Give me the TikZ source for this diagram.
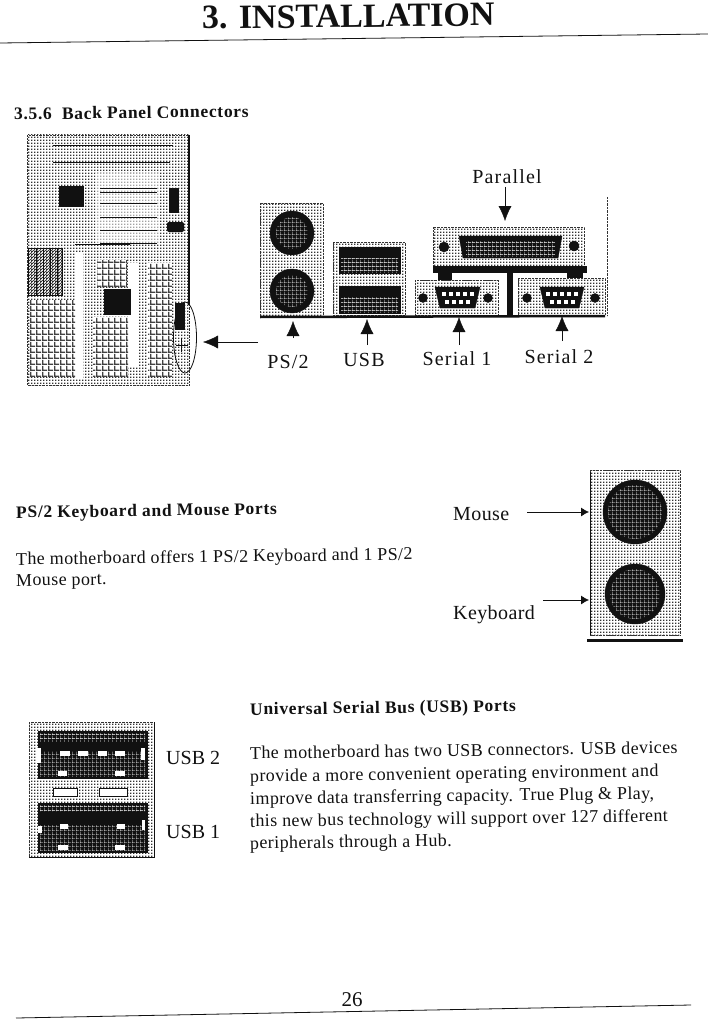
\documentclass[tikz,border=0pt]{standalone}
\usepackage{fontspec}
\setmainfont{Liberation Serif}
\newfontfamily\lblfont[LetterSpace=6]{Liberation Serif}
\newfontfamily\sidefont[LetterSpace=2]{Liberation Serif}
\newfontfamily\txtfont[LetterSpace=2.2]{Liberation Serif}
\newfontfamily\hdgfont[LetterSpace=4,BoldFont={Liberation Serif Bold}]{Liberation Serif}
\usetikzlibrary{positioning, arrows.meta, calc, patterns}
\definecolor{ink}{HTML}{111111}
\definecolor{halftone}{HTML}{333333}
\pgfdeclarepatternformonly{dither}{\pgfqpoint{0pt}{0pt}}{\pgfqpoint{2.8pt}{2.8pt}}{\pgfqpoint{2.8pt}{2.8pt}}{\pgfpathrectangle{\pgfqpoint{0pt}{0pt}}{\pgfqpoint{1.4pt}{1.4pt}}\pgfusepath{fill}}
\pgfdeclarepatternformonly{sparse}{\pgfqpoint{0pt}{0pt}}{\pgfqpoint{4pt}{4pt}}{\pgfqpoint{4pt}{4pt}}{\pgfpathrectangle{\pgfqpoint{0pt}{0pt}}{\pgfqpoint{4pt}{0.6pt}}\pgfpathrectangle{\pgfqpoint{0pt}{0pt}}{\pgfqpoint{0.6pt}{4pt}}\pgfusepath{fill}}
\pgfdeclarepatternformonly{cellgrid}{\pgfqpoint{0pt}{0pt}}{\pgfqpoint{6pt}{6pt}}{\pgfqpoint{6pt}{6pt}}{\pgfpathrectangle{\pgfqpoint{0pt}{0pt}}{\pgfqpoint{6pt}{1.6pt}}\pgfpathrectangle{\pgfqpoint{0pt}{0pt}}{\pgfqpoint{1.6pt}{6pt}}\pgfusepath{fill}}
\begin{document}
\begin{tikzpicture}[x=1pt,y=-1pt,
hdg/.style={anchor=base west, inner sep=0pt, rotate=0.75, font=\fontsize{17.5}{17.5}\selectfont\hdgfont\bfseries, color=ink},
txt/.style={anchor=base west, inner sep=0pt, rotate=0.75, font=\fontsize{18}{18}\selectfont\txtfont, color=ink},
lbl/.style={anchor=base, inner sep=0pt, font=\fontsize{20}{20}\selectfont\lblfont, color=ink},
sidelbl/.style={anchor=base west, inner sep=0pt, font=\fontsize{20}{20}\selectfont\sidefont, color=ink},
panel/.style={pattern=dither, pattern color=halftone, draw=halftone, densely dotted},
plug/.style={fill=ink, draw=ink},
holes/.style={pattern=sparse, pattern color=white},
slotgrid/.style={fill=white, postaction={pattern=cellgrid, pattern color=ink!80}},
big arrow/.style={draw=ink, thin, -{Latex[length=15pt, width=13pt]}},
small arrow/.style={draw=ink, thick, -{Latex[length=8pt, width=9pt]}}]
\useasboundingbox (0,0) rectangle (708,1019);
\fill[white] (0,0) rectangle (708,1019);
% header and footer
\node[inner sep=0pt, anchor=base west, rotate=0.7, font=\fontsize{34}{34}\selectfont\bfseries, color=ink] (title) at (202,29) {3. INSTALLATION};
\coordinate (topL) at (0,43); \coordinate (topR) at (708,34);
\draw[ink, thick] (topL)--(topR);
\node[inner sep=0pt, anchor=base, font=\fontsize{21}{21}\selectfont, color=ink] (page) at (352,1006) {26};
\coordinate (botL) at (16,1018); \coordinate (botR) at (691,1005);
\draw[ink, thick] (botL)--(botR);
\node[hdg] (secttl) at (14,120) {3.5.6\ \ Back Panel Connectors};
% board
\draw[panel] (27,135) rectangle (189,385);
\draw[ink, line width=1.5pt] (189,135)--(189,305);
\fill[white, opacity=.55] (95,173) rectangle (160,243);
\fill[white] (75,253) rectangle (83,378);
\fill[white] (128,263) rectangle (138,367);
\fill[slotgrid] (148,263) rectangle (172,377);
\fill[slotgrid] (30,300) rectangle (75,377);
\fill[slotgrid] (93,317) rectangle (128,377);
\fill[slotgrid] (97,260) rectangle (127,287);
\fill[ink] (59,186) rectangle (84,207);
\fill[ink] (104,289) rectangle (131,315);
\fill[ink] (169,188) rectangle (179,213);
\fill[ink, rounded corners=2pt] (167,222) rectangle (184,232);
\fill[ink] (175,303) rectangle (185,330);
\foreach \yy/\xa/\xb in {145/53/173, 162/53/170, 188/100/157, 192/100/157, 203/100/157, 217/100/157, 230/100/157, 243/100/157, 244/75/130} \draw[ink, thick] (\xa,\yy)--(\xb,\yy);
\draw[pattern=north east lines, pattern color=ink, draw=ink] (28,248) rectangle (62,295);
\foreach \xx in {36,43,50,57} \draw[ink, thick] (\xx,248)--(\xx,295);
\draw[ink, thick] (181,338)--(181,352) (176,345)--(188,345);
\draw[ink, thick] (185,337.5) ellipse (11.5 and 35.5);
\coordinate (zoomR) at (258,342); \coordinate (zoomT) at (203,342);
\draw[big arrow] (zoomR)--(zoomT);
% back panel ports
\draw[panel] (260,203) rectangle (323,317);
\node[circle, plug, minimum size=44pt, inner sep=0pt] (ps2a) at (292,233) {};
\node[circle, plug, minimum size=44pt, inner sep=0pt] (ps2b) at (292,291) {};
\fill[holes] (292,233) circle (16); \fill[holes] (292,291) circle (16);
\draw[panel] (333,242) rectangle (405,315);
\node[plug, minimum width=61pt, minimum height=26pt, inner sep=0pt] (usba) at (369.5,260) {};
\node[plug, minimum width=61pt, minimum height=27pt, inner sep=0pt] (usbb) at (369.5,299.5) {};
\fill[holes] (341,258) rectangle (398,272); \fill[holes] (341,297) rectangle (398,312);
\draw[panel] (433,227) rectangle (584,267);
\draw[plug] (459,236)--(562,236)--(558,258)--(463,258)--cycle;
\fill[holes] (466,241) rectangle (555,256);
\node[circle, plug, minimum size=10pt, inner sep=0pt] (parsa) at (444,247) {};
\node[circle, plug, minimum size=10pt, inner sep=0pt] (parsb) at (574,246) {};
\draw[panel] (415,280) rectangle (498,315);
\draw[panel] (518,278) rectangle (605,315);
\fill[ink] (433,266) rectangle (587,273);
\fill[ink] (438,273) rectangle (452,280);
\fill[ink] (567,273) rectangle (583,278);
\fill[ink] (507,273) rectangle (513,315);
\foreach \xa/\xb/\cc in {435/480/457.5, 540/584/562} {
\draw[plug] (\xa,287)--(\xb,287)--(\xb-5,308)--(\xa+5,308)--cycle;
\foreach \k in {-14,-7,0,7,14} \fill[white] (\cc+\k-2,292) rectangle (\cc+\k+2,296);
\foreach \k in {-10.5,-3.5,3.5,10.5} \fill[white] (\cc+\k-2,300) rectangle (\cc+\k+2,304);
}
\node[circle, plug, minimum size=9pt, inner sep=0pt] (sera) at (423,298) {};
\node[circle, plug, minimum size=9pt, inner sep=0pt] (serb) at (488,298) {};
\node[circle, plug, minimum size=9pt, inner sep=0pt] (serc) at (527,298) {};
\node[circle, plug, minimum size=9pt, inner sep=0pt] (serd) at (595,298) {};
\draw[ink, line width=2.5pt] (260,317)--(605,316);
\draw[halftone, densely dotted] (607,197)--(607,316);
% back panel labels
\node[lbl] (lblpar) at (507,184) {Parallel};
\node[lbl] (lblps) at (288,368) {PS/2};
\node[lbl] (lblusb) at (364,366) {USB};
\node[lbl] (lblsera) at (457,365) {Serial 1};
\node[lbl] (lblserb) at (559,363) {Serial 2};
\coordinate (parTail) at (505,187); \coordinate (parTip) at (505,221);
\coordinate (psTail) at (293,338); \coordinate (psTip) at (293,321);
\coordinate (usbTail) at (367,345); \coordinate (usbTip) at (367,319);
\coordinate (seraTail) at (459,345); \coordinate (seraTip) at (459,317);
\coordinate (serbTail) at (562,341); \coordinate (serbTip) at (562,316);
\draw[big arrow] (parTail)--(parTip);
\draw[big arrow] (psTail)--(psTip);
\draw[big arrow] (usbTail)--(usbTip);
\draw[big arrow] (seraTail)--(seraTip);
\draw[big arrow] (serbTail)--(serbTip);
% keyboard and mouse
\node[hdg] (psttl) at (16,518) {PS/2 Keyboard and Mouse Ports};
\node[txt] (pstxta) at (16,565) {The motherboard offers 1 PS/2 Keyboard and 1 PS/2};
\node[txt] (pstxtb) at (16,586) {Mouse port.};
\draw[panel] (590,470) rectangle (680,635);
\draw[ink, thick] (590,472)--(590,635);
\node[circle, plug, minimum size=64pt, inner sep=0pt] (mouse) at (635,512) {};
\node[circle, plug, minimum size=60pt, inner sep=0pt] (keybd) at (635,594) {};
\fill[holes] (635,512) circle (27); \fill[holes] (635,594) circle (25);
\draw[ink, line width=3pt] (587,640)--(683,640);
\node[sidelbl] (lblmouse) at (453,520) {Mouse};
\node[sidelbl] (lblkeybd) at (453,619) {Keyboard};
\coordinate (mouseL) at (527,512); \coordinate (mouseR) at (589,512);
\coordinate (keybdL) at (543,600); \coordinate (keybdR) at (589,600);
\draw[small arrow] (mouseL)--(mouseR);
\draw[small arrow] (keybdL)--(keybdR);
% usb
\draw[panel] (29,722) rectangle (154,857);
\draw[ink] (154,722)--(154,857)--(29,857);
\node[plug, minimum width=109pt, minimum height=47pt, inner sep=0pt] (usbu) at (92.5,754.5) {};
\node[plug, minimum width=109pt, minimum height=49pt, inner sep=0pt] (usbl) at (92.5,827.5) {};
\fill[holes] (40,733) rectangle (145,741); \fill[holes] (40,751) rectangle (145,776);
\fill[holes] (40,805) rectangle (145,811); \fill[holes] (40,825) rectangle (145,850);
\foreach \yy/\xa/\xb in {753/60/70, 753/78/88, 753/98/107, 753/115/125, 773/58/67, 773/115/125, 826/60/68, 826/117/125, 847/58/68, 847/115/125} \fill[white] (\xa,\yy-2.5) rectangle (\xb,\yy+2.5);
\fill[white] (37,748) rectangle (41,763); \fill[white] (141,748) rectangle (145,760);
\fill[white] (38,826) rectangle (42,833); \fill[white] (142,820) rectangle (145,830);
\draw[ink, fill=white] (53,788) rectangle (77,796);
\draw[ink, fill=white] (99,788) rectangle (127,796);
\node[sidelbl, font=\fontsize{20}{20}\selectfont] (lblusbb) at (166,764) {USB 2};
\node[sidelbl, font=\fontsize{20}{20}\selectfont] (lblusba) at (166,838) {USB 1};
\node[hdg] (usbttl) at (250,715) {Universal Serial Bus (USB) Ports};
\node[txt] (usbtxta) at (250,759) {The motherboard has two USB connectors. USB devices};
\node[txt] (usbtxtb) at (250,782) {provide a more convenient operating environment and};
\node[txt] (usbtxtc) at (250,804.5) {improve data transferring capacity. True Plug \& Play,};
\node[txt] (usbtxtd) at (250,827) {this new bus technology will support over 127 different};
\node[txt] (usbtxte) at (250,849) {peripherals through a Hub.};
\end{tikzpicture}
\end{document}
